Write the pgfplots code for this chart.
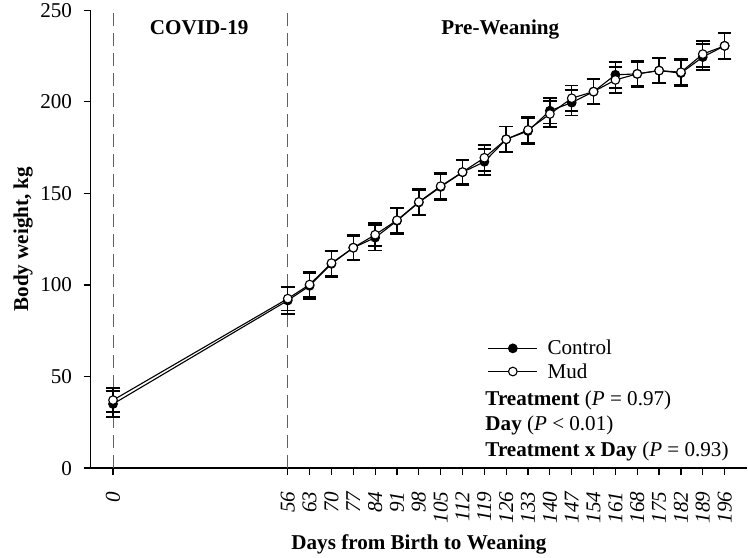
\documentclass[border=0pt]{standalone}
\usepackage{fontspec}
\setmainfont{Liberation Serif}
\usepackage{pgfplots}
\usepackage{pgfplotstable}
\pgfplotsset{compat=1.18}

\pgfplotstableread{
d v e
0 35.0 7
56 91.5 7.5
63 99.5 7
70 111.5 7
77 120.3 7
84 125.8 7
91 135.0 7
98 145.0 7
105 153.5 7
112 161.5 7
119 167.2 7
126 179.5 7
133 184.0 7
140 195.1 7
147 199.5 7
154 205.5 7
161 214.7 7
168 215.2 7
175 217.0 7
182 215.6 7
189 224.4 7
196 230.5 7
}\control

\pgfplotstableread{
d v e
0 37.1 6.5
56 92.5 6.5
63 100.2 6.8
70 111.9 6.8
77 120.3 6.5
84 127.4 6.2
91 135.3 7
98 145.3 7
105 153.9 7
112 161.6 6.7
119 169.4 7
126 179.5 7
133 184.6 7
140 193.3 7
147 201.9 7
154 205.5 6.6
161 211.9 7
168 215.2 6.5
175 217.0 7
182 216.1 7
189 226.0 7
196 230.5 7
}\mud

\newcommand{\bigfont}{\fontsize{21bp}{25bp}\selectfont}

\begin{document}
\begin{tikzpicture}
\begin{axis}[
  scale only axis,
  width=654bp, height=456bp,
  xmin=-7.2, xmax=203.3,
  ymin=0, ymax=250,
  axis lines=left,
  axis line style={-, line width=1.2bp},
  every tick/.style={black, line width=1.2bp},
  tick align=outside,
  major tick length=7bp,
  font=\bigfont,
  /pgf/number format/assume math mode=true,
  xtick={0,56,63,70,77,84,91,98,105,112,119,126,133,140,147,154,161,168,175,182,189,196},
  xticklabel style={rotate=90, anchor=east, font=\bigfont\itshape},
  xticklabel shift=13bp,
  ytick={0,50,100,150,200,250},
  yticklabel style={font=\bigfont, inner ysep=3bp},
  yticklabel shift=8bp,
  xlabel={\textbf{Days from Birth to Weaning}},
  xlabel style={font=\bigfont, yshift=-4bp},
  ylabel={\rule{0pt}{28bp}\textbf{Body weight, kg}},
  ylabel style={font=\bigfont, inner sep=0pt, at={(ticklabel cs:0.5,4bp)}},
  legend style={at={(axis cs:120,70.7)}, anchor=north west, draw=none, fill=none,
    inner sep=0pt, row sep=4bp, column sep=8bp, nodes={inner sep=1.5bp}},
  legend cell align=left,
  legend image code/.code={\draw[mark repeat=2, mark phase=2, line width=1.1bp] plot coordinates {(0bp,0bp) (24.5bp,0bp) (49bp,0bp)};},
  clip=false,
]
\addplot[gray!75!black, line width=1bp, dash pattern=on 13bp off 7bp, forget plot] coordinates {(0,0) (0,250)};
\addplot[gray!75!black, line width=1bp, dash pattern=on 13bp off 7bp, forget plot] coordinates {(56,0) (56,250)};

\addplot[black, line width=1.1bp, mark=*, mark size=4.3bp, mark options={fill=black, line width=1.1bp},
  error bars/.cd, y dir=both, y explicit,
  error bar style={line width=1.4bp, black},
  error mark options={rotate=90, mark size=6.7bp, line width=1.8bp, black}]
  table[x=d, y=v, y error=e] {\control};
\addlegendentry{Control}

\addplot[black, line width=1.1bp, mark=*, mark size=4.3bp, mark options={fill=white, line width=1.1bp},
  error bars/.cd, y dir=both, y explicit,
  error bar style={line width=1.4bp, black},
  error mark options={rotate=90, mark size=6.7bp, line width=1.8bp, black}]
  table[x=d, y=v, y error=e] {\mud};
\addlegendentry{Mud}

\node[font=\bigfont\bfseries, anchor=base] at (axis cs:27.6,236.6) {COVID-19};
\node[font=\bigfont\bfseries, anchor=base] at (axis cs:124.1,236.6) {Pre-Weaning};
\node[anchor=base west, inner sep=0pt] at (axis cs:119.3,34) {\textbf{Treatment} (\textit{P} = 0.97)};
\node[anchor=base west, inner sep=0pt] at (axis cs:119.3,20.3) {\textbf{Day} (\textit{P} < 0.01)};
\node[anchor=base west, inner sep=0pt] at (axis cs:119.3,6.6) {\textbf{Treatment x Day} (\textit{P} = 0.93)};
\end{axis}
\end{tikzpicture}
\end{document}
